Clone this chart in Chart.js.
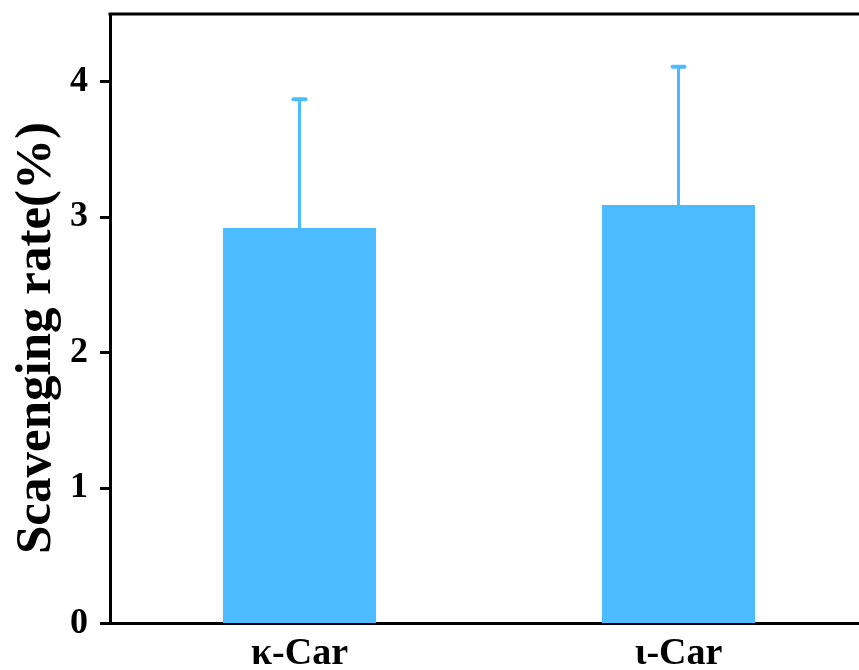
<!DOCTYPE html>
<html>
<head>
<meta charset="utf-8">
<script src="https://cdn.jsdelivr.net/npm/chart.js@4.4.1/dist/chart.umd.min.js"></script>
<style>
  html, body { margin: 0; padding: 0; background: #fff; overflow: hidden; }
  #wrap { width: 880px; height: 670px; }
</style>
</head>
<body>
<div id="wrap"><canvas id="c" width="880" height="670"></canvas></div>
<script>
// Scavenging rate of the two carrageenans (mean and upper error)
const categories = ['\u03BA-Car', '\u03B9-Car'];
const rates = [2.92, 3.09];
const errors = [0.95, 1.02];
const yTicks = [0, 1, 2, 3, 4];

const barColor = '#4DBBFF';
const fontFamily = '"Liberation Serif", "Times New Roman", serif';

// Upper error bars, the frame lines and the rotated axis title
const extras = {
  id: 'extras',
  afterDatasetsDraw(chart) {
    const { ctx, scales } = chart;
    const meta = chart.getDatasetMeta(0);
    ctx.save();
    ctx.strokeStyle = barColor;
    ctx.lineWidth = 3;
    ctx.lineCap = 'round';
    meta.data.forEach((bar, i) => {
      const x = bar.x;
      const yTop = scales.y.getPixelForValue(rates[i] + errors[i]);
      const yBase = scales.y.getPixelForValue(rates[i]);
      ctx.beginPath();
      ctx.moveTo(x, yBase);
      ctx.lineTo(x, yTop);
      ctx.stroke();
      ctx.lineWidth = 4;
      ctx.beginPath();
      ctx.moveTo(x - 6, yTop);
      ctx.lineTo(x + 6, yTop);
      ctx.stroke();
      ctx.lineWidth = 3;
    });
    ctx.restore();
  },
  afterDraw(chart) {
    const { ctx, chartArea } = chart;
    ctx.save();
    ctx.strokeStyle = '#000';
    ctx.lineWidth = 3;
    ctx.beginPath();
    ctx.moveTo(chartArea.left - 1.5, chartArea.top);
    ctx.lineTo(chartArea.right + 1.5, chartArea.top);
    ctx.stroke();
    ctx.beginPath();
    ctx.moveTo(chartArea.right, chartArea.top);
    ctx.lineTo(chartArea.right, chartArea.bottom);
    ctx.stroke();

    ctx.translate(50, 338);
    ctx.rotate(-Math.PI / 2);
    ctx.fillStyle = '#000';
    ctx.font = 'bold 51px ' + fontFamily;
    ctx.textAlign = 'center';
    ctx.textBaseline = 'alphabetic';
    ctx.fillText('Scavenging rate(%)', 0, 0);
    ctx.restore();
  }
};

new Chart(document.getElementById('c'), {
  type: 'bar',
  data: {
    labels: categories,
    datasets: [{
      data: rates,
      backgroundColor: barColor,
      borderWidth: 0,
      barPercentage: 0.404,
      categoryPercentage: 1
    }]
  },
  options: {
    responsive: false,
    animation: false,
    layout: { padding: { top: 14, right: 12, left: 0, bottom: 0 } },
    plugins: { legend: { display: false }, tooltip: { enabled: false } },
    scales: {
      x: {
        grid: { display: false, drawTicks: false, tickLength: 0 },
        border: { display: true, color: '#000', width: 3 },
        ticks: {
          color: '#000',
          padding: 8,
          font: { family: fontFamily, size: 38, weight: 'bold' }
        },
        afterFit(scale) {
          scale.height = 46.5;
          scale.paddingLeft = 0;
          scale.paddingRight = 0;
        }
      },
      y: {
        min: 0,
        max: 4.5,
        afterBuildTicks(scale) {
          scale.ticks = yTicks.map(v => ({ value: v }));
        },
        grid: {
          display: true,
          drawOnChartArea: false,
          drawTicks: true,
          tickLength: 10,
          tickWidth: 3,
          tickColor: '#000'
        },
        border: { display: true, color: '#000', width: 3 },
        ticks: {
          color: '#000',
          padding: 12,
          font: { family: fontFamily, size: 36, weight: 'bold' }
        },
        afterFit(scale) {
          scale.width = 110;
          scale.paddingTop = 0;
          scale.paddingBottom = 0;
        }
      }
    }
  },
  plugins: [extras]
});
</script>
</body>
</html>
